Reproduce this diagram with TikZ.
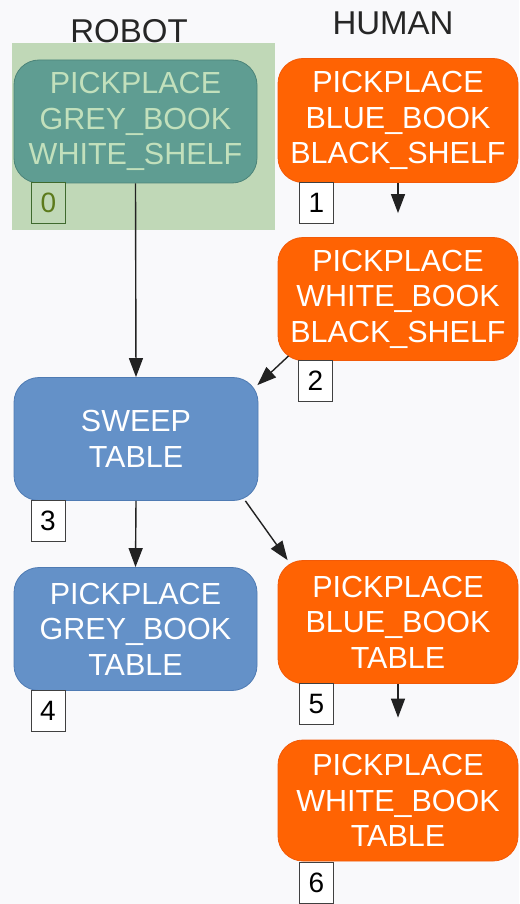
\documentclass[tikz,border=0pt]{standalone}
\usepackage{fontspec}
\setmainfont{Liberation Sans}
\usetikzlibrary{arrows.meta,calc}

\definecolor{pagebg}{HTML}{F9F9FB}
\definecolor{hilite}{HTML}{C0D8B7}
\definecolor{tealfill}{HTML}{5F9D92}
\definecolor{tealdraw}{HTML}{4C8479}
\definecolor{tealtext}{HTML}{C2E0BC}
\definecolor{orangefill}{HTML}{FF6303}
\definecolor{orangedraw}{HTML}{F25A08}
\definecolor{bluefill}{HTML}{6491C8}
\definecolor{bluedraw}{HTML}{4F7BB3}
\definecolor{labgreen}{HTML}{3F6A2E}
\definecolor{labtext}{HTML}{5C7A1C}
\definecolor{edgecol}{HTML}{222222}

\tikzset{
  task/.style={rounded corners=25pt, align=center, inner sep=0pt,
    font=\fontsize{30.5}{35.5}\selectfont, line width=0.8pt},
  robottask/.style={task, fill=bluefill, draw=bluedraw, text=white},
  humantask/.style={task, fill=orangefill, draw=orangedraw, text=white},
  activetask/.style={task, fill=tealfill, draw=tealdraw, text=tealtext},
  idbox/.style={draw=black!75, fill=white, line width=0.8pt, minimum width=34pt,
    minimum height=41pt, inner sep=0pt, font=\fontsize{28}{30}\selectfont},
  header/.style={font=\fontsize{33}{36}\selectfont, text=black!85},
  flow/.style={draw=edgecol, line width=1.4pt, -{Triangle[length=19pt,width=14pt]}}
}

\begin{document}
\begin{tikzpicture}[x=1pt,y=-1pt]
  \fill[pagebg] (0,0) rectangle (519,904);
  \useasboundingbox (0,0) rectangle (519,904);

  % column headers
  \node[header] (robot) at (129,31) {ROBOT};
  \node[header] (human) at (393,23) {HUMAN};

  % highlight behind the current robot task
  \node[fill=hilite, minimum width=263pt, minimum height=187pt, inner sep=0pt]
    (current) at (143.5,136.5) {};

  % tasks
  \node[activetask, minimum width=243pt, minimum height=123pt] (n0) at (135.5,121.5)
    {PICKPLACE\\GREY\_BOOK\\WHITE\_SHELF};
  \node[humantask, minimum width=240pt, minimum height=124pt] (n1) at (398,120.5)
    {PICKPLACE\\BLUE\_BOOK\\BLACK\_SHELF};
  \node[humantask, minimum width=240pt, minimum height=123pt] (n2) at (398,299)
    {PICKPLACE\\WHITE\_BOOK\\BLACK\_SHELF};
  \node[robottask, minimum width=244pt, minimum height=123pt] (n3) at (136,439)
    {SWEEP\\TABLE};
  \node[robottask, minimum width=243pt, minimum height=123pt] (n4) at (135.5,629)
    {PICKPLACE\\GREY\_BOOK\\TABLE};
  \node[humantask, minimum width=240pt, minimum height=123pt] (n5) at (398,622)
    {PICKPLACE\\BLUE\_BOOK\\TABLE};
  \node[humantask, minimum width=240pt, minimum height=121pt] (n6) at (398,800.5)
    {PICKPLACE\\WHITE\_BOOK\\TABLE};

  % task numbers
  \node[idbox, draw=labgreen, fill=hilite, text=labtext] (l0) at (48.5,202.5) {0};
  \node[idbox] (l1) at (316.5,202.5) {1};
  \node[idbox] (l2) at (315.5,381) {2};
  \node[idbox] (l3) at (48,521) {3};
  \node[idbox] (l4) at (48,711) {4};
  \node[idbox] (l5) at (316.5,704) {5};
  \node[idbox] (l6) at (316.5,883) {6};

  % ordering constraints
  \draw[flow] (n0.south) -- (n3.north);
  \draw[flow, shorten >=24pt] (n1.south) -- (n2.north);
  \draw[flow] ($(n2.south west)+(11,-5)$) -- ($(n3.north east)+(-1,8)$);
  \draw[flow] (n3.south) -- (n4.north);
  \draw[flow] ($(n3.south east)+(-13,0)$) -- ($(n5.north west)+(10,0)$);
  \draw[flow, shorten >=22pt] (n5.south) -- (n6.north);
\end{tikzpicture}
\end{document}
